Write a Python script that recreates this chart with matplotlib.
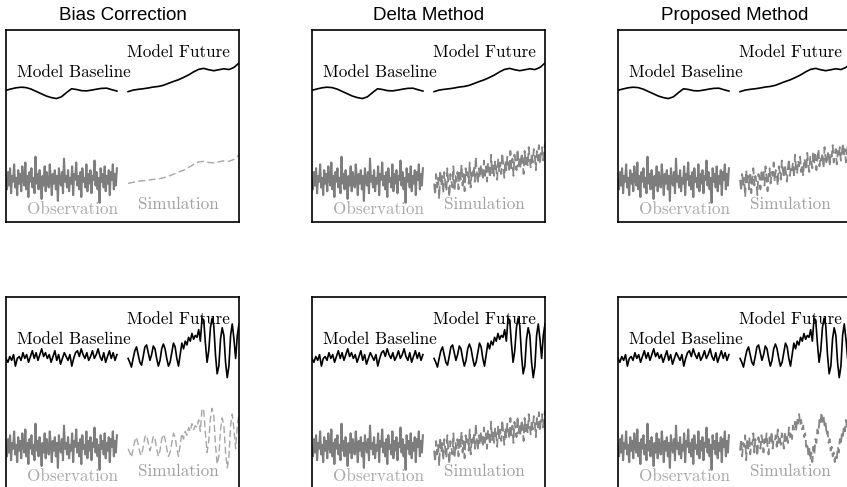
import numpy as np
import matplotlib
matplotlib.use("Agg")
import matplotlib.pyplot as plt

# panel titles and the four labels inside every panel
titles = ["Bias Correction", "Delta Method", "Proposed Method"]
lbl_base, lbl_fut = "Model Baseline", "Model Future"
lbl_obs, lbl_sim = "Observation", "Simulation"

# ---- row 1 : smooth model runs ----
base_1 = [68.6, 69.3, 69.9, 70.2, 70.0, 69.2, 68.0, 66.8, 65.6, 64.8, 64.3, 65.2,
          67.4, 69.4, 69.0, 68.4, 68.3, 68.7, 69.2, 69.6, 69.7, 68.9, 68.2]
fut_1 = [67.9, 68.7, 69.1, 69.4, 69.8, 70.3, 70.6, 71.2, 72.2, 73.2, 74.1, 75.3,
         76.6, 78.2, 79.5, 80.0, 79.3, 78.8, 79.3, 79.8, 79.4, 80.5, 82.8]

# ---- row 2 : noisy model runs ----
base_2 = [68, 66, 69, 67, 70, 64, 68, 69, 67, 71, 68, 70, 66, 69, 72, 68, 71, 67, 70, 73,
          69, 71, 68, 70, 66, 69, 72, 67, 70, 65, 68, 71, 69, 67, 70, 64, 68, 71, 72, 69,
          73, 70, 68, 71, 67, 69, 72, 68, 70, 73, 69, 67, 71, 66, 69, 72, 68, 71, 67, 70]
fut_2 = [68, 66, 63.5, 68, 72, 74, 70, 66, 64.5, 69, 74, 75, 71, 67, 70, 74.5, 73, 68, 64, 67,
         73, 75.5, 73, 68, 64, 66, 71, 76, 74, 68, 64, 70, 76, 73, 77, 75, 79, 77, 81, 78,
         80, 79, 83, 77, 89, 88, 76, 66, 72, 84, 89, 85, 70, 60, 64, 78, 84, 80, 66, 58,
         64, 80, 86, 78, 68, 80, 86]

# observation (same in every panel)
obs = [22, 17, 26, 19, 28, 15, 24, 21, 30, 18, 23, 14, 27, 20, 25, 16, 29, 22, 19, 31,
       17, 24, 13, 26, 21, 28, 18, 23, 15, 34, 20, 25, 17, 27, 22, 12, 24, 19, 29, 16,
       26, 21, 18, 30, 23, 14, 25, 20, 27, 17, 24, 11, 28, 22, 19, 26, 15, 33, 21, 24,
       18, 27, 16, 23, 20, 29, 14, 25, 22, 31, 19, 24, 17, 26, 13, 28, 21, 23, 18, 30,
       16, 25, 20, 27, 15, 24, 22, 32, 19, 26, 17, 23, 10, 28, 21, 25, 18, 29, 16, 24,
       20, 27, 14, 26, 22, 30, 17, 25, 19, 28]

# simulations
bc_sim_1 = [20.1, 20.7, 21.2, 21.5, 21.8, 22.2, 22.4, 23.0, 23.8, 24.9, 26.0, 27.0,
            28.4, 30.0, 31.3, 31.6, 31.0, 30.8, 31.3, 31.9, 31.6, 32.6, 34.9]
bc_sim_2 = [21, 19, 16.5, 21, 25, 27, 23, 19, 17.5, 22, 27, 28, 24, 20, 23, 27.5, 26, 21, 17, 20,
            26, 28.5, 26, 21, 17, 19, 24, 29, 27, 21, 17, 23, 29, 26, 30, 28, 32, 30, 34, 31,
            33, 32, 36, 30, 42, 41, 29, 19, 25, 37, 42, 38, 23, 13, 17, 31, 37, 33, 19, 11,
            17, 33, 39, 31, 21, 33, 39]
delta_sim = [20, 14, 25, 18, 23, 12, 27, 19, 24, 15, 26, 21, 16, 28, 20, 13, 25, 22, 18, 29,
             16, 24, 21, 26, 17, 27, 22, 30, 19, 25, 16, 28, 23, 26, 20, 31, 18, 27, 24, 29,
             21, 34, 25, 20, 28, 23, 30, 26, 22, 32, 24, 29, 21, 31, 27, 23, 35, 25, 30, 24,
             32, 28, 22, 33, 26, 31, 25, 36, 29, 23, 32, 27, 34, 30, 26, 37, 28, 33, 24, 35,
             31, 27, 38, 29, 34, 28, 36, 32, 25, 37, 30, 35, 29, 39, 33, 28, 36, 31, 38, 34,
             27, 37, 32, 40, 30, 36, 39, 32, 37, 41]
prop_sim_1 = [22, 16, 25, 19, 23, 13, 27, 20, 24, 17, 26, 15, 22, 28, 19, 24, 21, 14, 25, 23,
              17, 27, 22, 26, 19, 29, 23, 16, 25, 28, 20, 26, 24, 31, 21, 27, 25, 19, 29, 26,
              22, 32, 27, 23, 30, 26, 21, 28, 33, 24, 29, 27, 31, 23, 35, 28, 25, 32, 29, 34,
              26, 30, 24, 33, 31, 27, 36, 30, 26, 34, 32, 28, 37, 31, 35, 27, 33, 38, 29, 34,
              32, 36, 28, 39, 33, 30, 35, 37, 29, 36, 34, 40, 31, 35, 38, 30, 37, 34, 39, 32,
              36, 41, 34, 38, 31, 37, 40, 33, 38, 42]
prop_sim_2 = [20, 26, 17, 24, 22, 28, 15, 25, 21, 27, 18, 24, 23, 29, 19, 26, 22, 17, 27, 24,
              21, 28, 25, 19, 26, 23, 29, 22, 18, 27, 24, 30, 21, 26, 25, 28, 22, 31, 24, 27,
              23, 29, 26, 21, 30, 25, 28, 24, 32, 27, 30, 26, 33, 31, 35, 30, 37, 34, 39, 33,
              36, 31, 33, 27, 29, 22, 24, 18, 21, 15, 19, 14, 22, 18, 26, 24, 31, 29, 36, 34,
              40, 35, 38, 33, 35, 28, 30, 24, 26, 20, 22, 17, 19, 14, 18, 16, 22, 19, 26, 23,
              29, 27, 33, 30, 36, 32, 35, 31, 37, 34]

rows = [
    (base_1, fut_1, [bc_sim_1, delta_sim, prop_sim_1]),
    (base_2, fut_2, [bc_sim_2, delta_sim, prop_sim_2]),
]
sim_colors = ["#a6a6a6", "#858585", "#858585"]
sim_lw = [1.0, 1.3, 1.3]

W, H = 847, 487
fig = plt.figure(figsize=(W / 100, H / 100), dpi=100)

lefts = [6, 312, 618]
tops = [30, 297]
pw, ph = 233, 192


def half(vals, start, stop):
    return np.linspace(start, stop, len(vals)), vals


for r, (base, fut, sims) in enumerate(rows):
    for c in range(3):
        ax = fig.add_axes([lefts[c] / W, (H - tops[r] - ph) / H, pw / W, ph / H])
        ax.set_xlim(0, 100)
        ax.set_ylim(0, 100)
        ax.set_xticks([])
        ax.set_yticks([])
        for s in ax.spines.values():
            s.set_linewidth(1.2)

        ax.plot(*half(base, 0, 47.6), color="black", lw=1.2)
        ax.plot(*half(fut, 52.4, 100), color="black", lw=1.2)
        ax.plot(*half(obs, 0, 47.6), color="#7d7d7d", lw=1.5)
        ax.plot(*half(sims[c], 52.4, 100), color=sim_colors[c], lw=sim_lw[c],
                linestyle=(0, (5, 2.5)))

        tkw = dict(family="cmr10", fontsize=12.3, va="center")
        ax.text(96, 88.5, lbl_fut, ha="right", color="black", **tkw)
        ax.text(4.7, 78, lbl_base, ha="left", color="black", **tkw)
        ax.text(28.5, 6.8, lbl_obs, ha="center", color="#aaaaaa", **tkw)
        ax.text(56.6, 9.2, lbl_sim, ha="left", color="#a0a0a0", **tkw)

        if r == 0:
            fig.text((lefts[c] + pw / 2) / W, 1 - 16 / H, titles[c],
                     family="Liberation Sans", fontsize=13.5, ha="center", va="center")

fig.savefig("out.png", dpi=100)
